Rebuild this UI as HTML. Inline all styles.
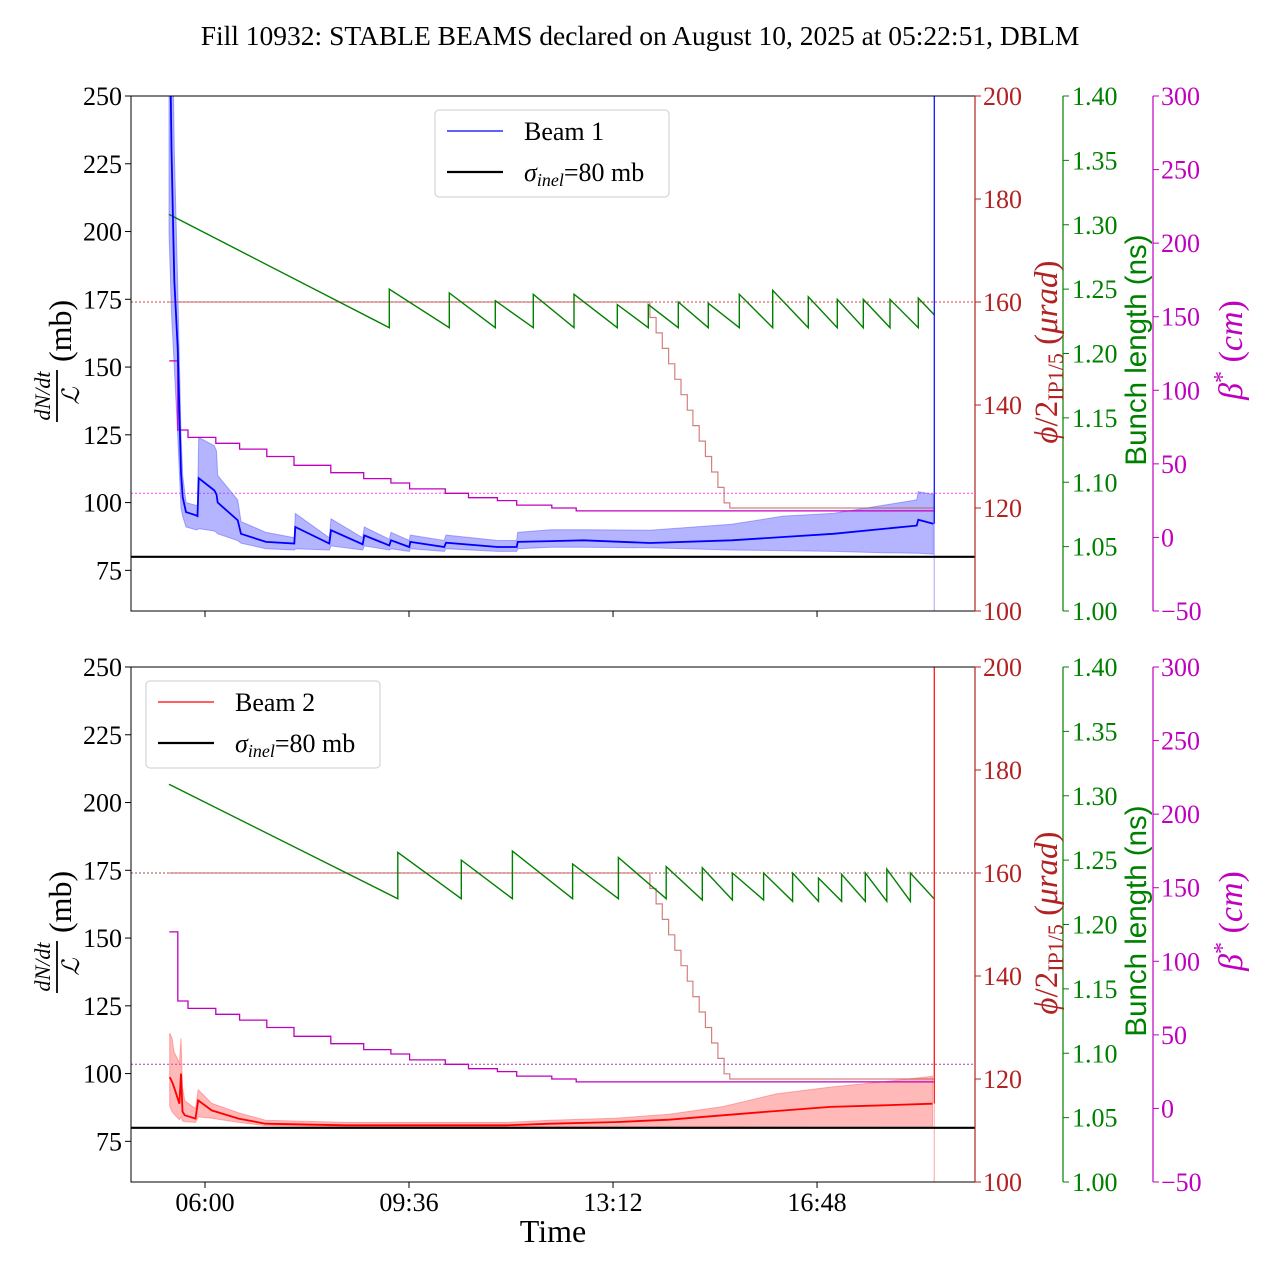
<!DOCTYPE html>
<html><head><meta charset="utf-8">
<style>
html,body{margin:0;padding:0;background:#fff;}
svg{display:block;font-family:"Liberation Serif",serif;}
</style></head>
<body>
<svg id="chart" width="1280" height="1280" viewBox="0 0 1280 1280" xmlns="http://www.w3.org/2000/svg">
<rect width="1280" height="1280" fill="#fff"/>
<text x="640" y="45" font-size="27.5" text-anchor="middle">Fill 10932: STABLE BEAMS declared on August 10, 2025 at 05:22:51, DBLM</text>
<text x="553" y="1242" font-size="32" text-anchor="middle">Time</text>
</svg>
<script>
// ---- data (time in hours of day) ----
const timeTicks = [6, 9.6, 13.2, 16.8];
const timeTickLabels = ["06:00", "09:36", "13:12", "16:48"];
const leftTicks = [75, 100, 125, 150, 175, 200, 225, 250];
const angleTicks = [100, 120, 140, 160, 180, 200];
const bunchTicks = [1.00, 1.05, 1.10, 1.15, 1.20, 1.25, 1.30, 1.35, 1.40];
const betaTicks = [-50, 0, 50, 100, 150, 200, 250, 300];

const b1Time = [5.365,5.409,5.458,5.518,5.576,5.606,5.665,5.841,5.868,5.889,6.164,6.203,6.224,6.577,6.635,7.076,7.576,7.593,8.193,8.223,8.783,8.811,9.252,9.282,9.605,9.623,10.223,10.253,11.165,11.5,11.518,12.106,12.676,13.852,15.294,16.205,17.087,17.969,18.559,18.587,18.852];
const b1Val = [300,230,182,157,111,102,96.5,95.3,95,109,104.5,103,100,93.5,88.5,85.5,84.9,91,84.9,89.8,84.6,87.9,84.2,86.1,83.6,85.5,83.6,85.2,83.6,83.6,85.5,85.8,86.1,85.1,86.1,87.3,88.5,90.3,91.5,93.7,92.2];
const b1Hi = [300,300,230,180,125,110,100,99,99,124,121,119,110,101,93,89,87,96,87,94,87,91,86.5,89,86,88,86,88,86,86,89,90,90,89.8,92,95,96,99,101,104,103];
const b1Lo = [200,170,150,125,98,95,91,90,90,90.4,89.5,89,88.5,86,85,83,82.5,83,82.5,84,82.5,84,82.5,83,82,83,82,83,82,82,83,83.5,83.5,83.3,82.5,82.3,82,81.5,81.3,81.3,81];

const b2Time = [5.377,5.418,5.453,5.548,5.576,5.603,5.644,5.832,5.880,6.118,6.593,7.068,8.488,11.338,12.099,13.235,14.188,15.135,16.085,17.034,17.982,18.838];
const b2Val = [98.7,97,95,88.9,100,86,84.6,83.4,90.1,86.4,83.4,81.5,80.9,80.9,81.5,82.1,83,84.6,86.2,87.7,88.3,88.9];
const b2Hi = [115,113,108,104,113,95,90,87,94,89,85.5,82.8,82,82,82.8,83.5,85,87.8,92.5,95,97,99];
const b2Lo = [88,86,85,83,84,82.5,82.3,82,84,83.5,82,80.8,80.4,80.4,80.5,80.5,80.5,80.5,80.3,80.2,80.1,80];

const betaTime = [5.37,5.52,5.70,6.19,6.61,7.09,7.57,8.22,8.80,9.28,9.61,10.24,10.65,11.16,11.50,12.12,12.55];
const betaVal = [120,73,68,64,60,55,49,44,40,37,33,30,27,25,22,20,18];

const angleTime = [5.37,13.85,13.96,14.07,14.18,14.29,14.40,14.51,14.61,14.72,14.83,14.94,15.05,15.16,15.26,15.30];
const angleVal = [160,157,154,151,148,145,142,139,136,133,130,127,124,121,120,120];

const g1RefillTime = [9.252,10.311,11.123,11.793,12.511,13.276,13.823,14.352,14.881,15.428,16.018,16.646,17.158,17.616,18.088,18.587];
const g1Peak = [1.250,1.247,1.241,1.246,1.246,1.238,1.238,1.240,1.239,1.246,1.249,1.244,1.242,1.242,1.242,1.243];
const g1Trough = [1.220,1.220,1.220,1.220,1.220,1.220,1.220,1.220,1.220,1.220,1.220,1.220,1.220,1.220,1.220,1.220];
const g1Start = [5.365, 1.308];
const g1End = [18.869, 1.230];

const g2RefillTime = [9.402,10.523,11.424,12.487,13.295,14.138,14.775,15.306,15.857,16.369,16.826,17.233,17.652,18.031,18.447];
const g2Peak = [1.256,1.250,1.257,1.247,1.252,1.245,1.244,1.240,1.240,1.240,1.236,1.239,1.240,1.243,1.240];
const g2Trough = [1.220,1.220,1.220,1.220,1.220,1.220,1.219,1.219,1.219,1.218,1.218,1.218,1.218,1.218,1.218];
const g2Start = [5.365, 1.309];
const g2End = [18.864, 1.220];

const tEnd = 18.86;
const sigmaInel = 80;
const angleRef = 160;
const betaRef = 30;

const NS = "http://www.w3.org/2000/svg";
const svg = document.getElementById('chart');
function mk(tag, attrs, parent) {
  const e = document.createElementNS(NS, tag);
  for (const k in attrs) e.setAttribute(k, attrs[k]);
  (parent || svg).appendChild(e);
  return e;
}
const X0 = 131, X1 = 975;
const TF = 26;
function xT(t) { return 205 + (t - 6) * 56.67; }

function drawPanel(oy, pi, b) {
  const top = 96 + oy, bot = 611 + oy;
  const yL = v => top + (250 - v) * 515 / 190;
  const yA = v => top + (200 - v) * 5.15;
  const yG = v => top + (1.4 - v) * 1287.5;
  const yM = v => top + (300 - v) * 515 / 350;
  const g = mk('g', {});
  
  
  const cp = mk('clipPath', {id: 'clip' + pi}, g);
  mk('rect', {x: X0, y: top, width: X1 - X0, height: bot - top}, cp);
  const d = mk('g', {'clip-path': 'url(#clip' + pi + ')'}, g);

  const ar = mk('line', {x1: X0, x2: X1, y1: yA(angleRef), y2: yA(angleRef), stroke: pi ? '#a05050' : '#d04040', 'stroke-width': 1, 'stroke-dasharray': '2,2'}, d);
  
  
  const br = mk('line', {x1: X0, x2: X1, y1: yM(betaRef), y2: yM(betaRef), stroke: pi ? '#a040a0' : '#ff40ff', 'stroke-width': 1, 'stroke-dasharray': '2,2'}, d);
  
  

  let bp = '';
  b.time.forEach((t, i) => { bp += (i ? 'L' : 'M') + xT(t).toFixed(1) + ',' + yL(b.hi[i]).toFixed(1); });
  for (let i = b.time.length - 1; i >= 0; i--) bp += 'L' + xT(b.time[i]).toFixed(1) + ',' + yL(b.lo[i]).toFixed(1);
  const band = mk('path', {d: bp + 'Z', fill: b.bandFill, stroke: b.bandEdge, 'stroke-width': 1}, d);
  
  

  let mp = '';
  betaTime.forEach((t, i) => {
    if (i) mp += 'L' + xT(t).toFixed(1) + ',' + yM(betaVal[i - 1]).toFixed(1);
    mp += (i ? 'L' : 'M') + xT(t).toFixed(1) + ',' + yM(betaVal[i]).toFixed(1);
  });
  mp += 'L' + xT(tEnd).toFixed(1) + ',' + yM(betaVal[betaVal.length - 1]).toFixed(1);
  const mline = mk('path', {d: mp, fill: 'none', stroke: '#bf00bf', 'stroke-width': 1.3}, d);
  
  

  let ap = '';
  angleTime.forEach((t, i) => {
    if (i) ap += 'L' + xT(t).toFixed(1) + ',' + yA(angleVal[i - 1]).toFixed(1);
    ap += (i ? 'L' : 'M') + xT(t).toFixed(1) + ',' + yA(angleVal[i]).toFixed(1);
  });
  ap += 'L' + xT(tEnd).toFixed(1) + ',' + yA(angleVal[angleVal.length - 1]).toFixed(1);
  const aline = mk('path', {d: ap, fill: 'none', stroke: '#c86060', 'stroke-opacity': 0.8, 'stroke-width': 1.2}, d);
  
  

  let gp = 'M' + xT(b.gStart[0]).toFixed(1) + ',' + yG(b.gStart[1]).toFixed(1);
  b.gTime.forEach((t, i) => {
    gp += 'L' + xT(t).toFixed(1) + ',' + yG(b.gTrough[i]).toFixed(1);
    gp += 'L' + xT(t).toFixed(1) + ',' + yG(b.gPeak[i]).toFixed(1);
  });
  gp += 'L' + xT(b.gEnd[0]).toFixed(1) + ',' + yG(b.gEnd[1]).toFixed(1);
  const gl = mk('path', {d: gp, fill: 'none', stroke: '#008000', 'stroke-width': 1.4}, d);
  
  

  let lp = '';
  b.time.forEach((t, i) => { lp += (i ? 'L' : 'M') + xT(t).toFixed(1) + ',' + yL(b.val[i]).toFixed(1); });
  const bl = mk('path', {d: lp, fill: 'none', stroke: b.color, 'stroke-width': 1.8}, d);
  
  

  const lastV = b.val[b.val.length - 1];
  mk('line', {x1: xT(tEnd) + 0.5, x2: xT(tEnd) + 0.5, y1: yL(lastV), y2: bot, stroke: b.color, 'stroke-opacity': 0.3, 'stroke-width': 1.2}, d);
  const ev = mk('line', {x1: xT(tEnd) + 0.5, x2: xT(tEnd) + 0.5, y1: top, y2: yL(lastV), stroke: b.color, 'stroke-width': 1.2}, d);
  
  

  const sl = mk('line', {x1: X0, x2: X1, y1: yL(sigmaInel), y2: yL(sigmaInel), stroke: '#000', 'stroke-width': 2.2}, d);
  
  

  mk('rect', {x: X0, y: top, width: X1 - X0, height: bot - top, fill: 'none', stroke: '#000', 'stroke-width': 1}, g);
  mk('line', {x1: X1, x2: X1, y1: top, y2: bot, stroke: '#b22222', 'stroke-width': 1.2}, g);
  mk('line', {x1: 1063, x2: 1063, y1: top, y2: bot, stroke: '#008000', 'stroke-width': 1.2}, g);
  mk('line', {x1: 1153, x2: 1153, y1: top, y2: bot, stroke: '#bf00bf', 'stroke-width': 1.2}, g);

  leftTicks.forEach(v => {
    const y = yL(v);
    mk('line', {x1: X0 - 6, x2: X0, y1: y, y2: y, stroke: '#000'}, g);
    const tx = mk('text', {x: X0 - 9, y: y + 9, 'font-size': TF, 'text-anchor': 'end'}, g);
    tx.textContent = v;
    
    
  });
  angleTicks.forEach(v => {
    const y = yA(v);
    mk('line', {x1: X1, x2: X1 + 6, y1: y, y2: y, stroke: '#b22222'}, g);
    const tx = mk('text', {x: X1 + 8, y: y + 9, 'font-size': TF, fill: '#b22222'}, g);
    tx.textContent = v;
    
    
  });
  bunchTicks.forEach(v => {
    const y = yG(v);
    mk('line', {x1: 1063, x2: 1069, y1: y, y2: y, stroke: '#008000'}, g);
    const tx = mk('text', {x: 1072, y: y + 9, 'font-size': TF, fill: '#008000'}, g);
    tx.textContent = v.toFixed(2);
    
    
  });
  betaTicks.forEach(v => {
    const y = yM(v);
    mk('line', {x1: 1153, x2: 1159, y1: y, y2: y, stroke: '#bf00bf'}, g);
    const tx = mk('text', {x: 1161, y: y + 9, 'font-size': TF, fill: '#bf00bf'}, g);
    tx.textContent = v < 0 ? '\u2212' + (-v) : v;
    
    
  });
  timeTicks.forEach((t, i) => {
    const x = xT(t);
    mk('line', {x1: x, x2: x, y1: bot, y2: bot + 6, stroke: '#000'}, g);
    if (pi === 1) {
      const tx = mk('text', {x: x, y: bot + 29, 'font-size': TF, 'text-anchor': 'middle'}, g);
      tx.textContent = timeTickLabels[i];
      
      
    }
  });

  const cy = top + 258;
  const ll = mk('g', {transform: 'translate(60,' + (cy + 42) + ') rotate(-90)'}, g);
  
  
  const num = mk('text', {x: 0, y: -10, 'font-size': 22, 'font-style': 'italic', 'text-anchor': 'middle'}, ll);
  num.textContent = 'dN/dt';
  mk('line', {x1: -26, x2: 26, y1: -3, y2: -3, stroke: '#000', 'stroke-width': 1.8}, ll);
  const den = mk('text', {x: 0, y: 19, 'font-size': 24, 'font-style': 'italic', 'text-anchor': 'middle'}, ll);
  den.textContent = '\u2112';
  const mb = mk('text', {x: 34, y: 11, 'font-size': 32}, ll);
  mb.textContent = '(mb)';

  const rl = mk('text', {transform: 'translate(1057,' + (cy - 2) + ') rotate(-90)', 'font-size': 33, fill: '#b22222', 'text-anchor': 'middle'}, g);
  
  
  rl.innerHTML = '<tspan font-style="italic">\u03D5</tspan>/2<tspan font-size="22" dy="6">IP1/5</tspan><tspan dy="-6"> (</tspan><tspan font-style="italic">\u03BCrad</tspan>)';
  const gt = mk('text', {transform: 'translate(1146,' + (cy - 4) + ') rotate(-90)', 'font-size': 29.5, fill: '#008000', 'text-anchor': 'middle', 'font-family': '"Liberation Sans",sans-serif'}, g);
  gt.textContent = 'Bunch length (ns)';
  
  
  const mt = mk('text', {transform: 'translate(1242,' + (cy - 4) + ') rotate(-90)', 'font-size': 34, fill: '#bf00bf', 'text-anchor': 'middle'}, g);
  mt.innerHTML = '<tspan font-style="italic">\u03B2</tspan><tspan font-size="24" dy="-12">*</tspan><tspan dy="12"> (</tspan><tspan font-style="italic">cm</tspan>)';
  
  

  const lx = b.legX, ly = top + 14;
  const lg = mk('g', {}, g);
  
  
  mk('rect', {x: lx, y: ly, width: 234, height: 87, rx: 4, fill: '#fff', 'fill-opacity': 0.85, stroke: '#ccc'}, lg);
  mk('line', {x1: lx + 12, x2: lx + 68, y1: ly + 21, y2: ly + 21, stroke: b.color, 'stroke-width': 1.2}, lg);
  const t1 = mk('text', {x: lx + 89, y: ly + 30, 'font-size': 26}, lg);
  t1.textContent = b.name;
  mk('line', {x1: lx + 12, x2: lx + 68, y1: ly + 62, y2: ly + 62, stroke: '#000', 'stroke-width': 2.2}, lg);
  const t2 = mk('text', {x: lx + 89, y: ly + 71, 'font-size': 26}, lg);
  t2.innerHTML = '<tspan font-style="italic">\u03C3</tspan><tspan font-size="18" dy="5" font-style="italic">inel</tspan><tspan dy="-5">=80 mb</tspan>';
}

drawPanel(0, 0, {time: b1Time, val: b1Val, hi: b1Hi, lo: b1Lo, color: '#0000ff', bandFill: 'rgba(90,90,255,0.45)', bandEdge: 'rgba(90,90,255,0.5)',
  gTime: g1RefillTime, gPeak: g1Peak, gTrough: g1Trough, gStart: g1Start, gEnd: g1End, legX: 435, name: 'Beam 1'});
drawPanel(571, 1, {time: b2Time, val: b2Val, hi: b2Hi, lo: b2Lo, color: '#ff0000', bandFill: 'rgba(255,100,100,0.45)', bandEdge: 'rgba(255,100,100,0.5)',
  gTime: g2RefillTime, gPeak: g2Peak, gTrough: g2Trough, gStart: g2Start, gEnd: g2End, legX: 146, name: 'Beam 2'});
</script>
</body></html>
